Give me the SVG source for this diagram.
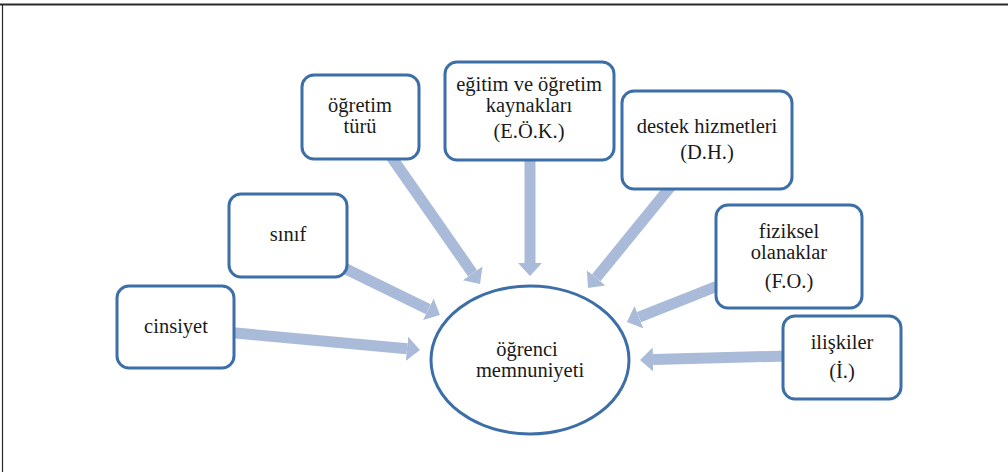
<svg xmlns="http://www.w3.org/2000/svg" width="1008" height="472" viewBox="0 0 1008 472">
<style>
.box{fill:#fff;stroke:#3c6ea7;stroke-width:3}
.t{font-family:"Liberation Serif","Times New Roman",serif;font-size:20.5px;fill:#1a1a1a;text-anchor:middle}
.arr{stroke:#a9bbd8;stroke-width:11;fill:none;marker-end:url(#ah)}
</style>
<defs>
<marker id="ah" markerUnits="userSpaceOnUse" markerWidth="14" markerHeight="26" refX="0" refY="13" orient="auto">
<path d="M0,1 L13,13 L0,25 z" fill="#a9bbd8"/>
</marker>
</defs>
<rect width="1008" height="472" fill="#fff"/>
<g id="frame" stroke="#2a2a2a" fill="none">
<line x1="0" y1="4.5" x2="1008" y2="4.5" stroke-width="2"/>
<line x1="2.5" y1="4" x2="2.5" y2="472" stroke-width="1.2"/>
</g>
<g id="connectors">
<line class="arr" x1="230" y1="332.5" x2="407" y2="348.8"/>
<line class="arr" x1="345" y1="268.5" x2="428.3" y2="309.3"/>
<line class="arr" x1="390" y1="155" x2="472.6" y2="273.3"/>
<line class="arr" x1="530" y1="156" x2="530" y2="263"/>
<line class="arr" x1="671" y1="186" x2="596.2" y2="277.9"/>
<line class="arr" x1="720" y1="285" x2="639" y2="317.2"/>
<line class="arr" x1="787" y1="356" x2="653" y2="359.6"/>
</g>
<g id="n-cinsiyet">
<rect class="box" x="117" y="286" width="117" height="82" rx="12"/>
<text class="t" x="176" y="333">cinsiyet</text>
</g>
<g id="n-sinif">
<rect class="box" x="229" y="194" width="118" height="83" rx="12"/>
<text class="t" x="288" y="241">sınıf</text>
</g>
<g id="n-ogretim-turu">
<rect class="box" x="302" y="75" width="117" height="84" rx="12"/>
<text class="t" x="360" y="112">öğretim</text>
<text class="t" x="360" y="133">türü</text>
</g>
<g id="n-eok">
<rect class="box" x="445" y="62" width="169" height="98" rx="12"/>
<text class="t" x="529" y="91">eğitim ve öğretim</text>
<text class="t" x="529" y="112">kaynakları</text>
<text class="t" x="529" y="138">(E.Ö.K.)</text>
</g>
<g id="n-dh">
<rect class="box" x="622" y="91" width="170" height="98" rx="12"/>
<text class="t" x="707" y="133">destek hizmetleri</text>
<text class="t" x="707" y="159">(D.H.)</text>
</g>
<g id="n-fo">
<rect class="box" x="716" y="205" width="146" height="103" rx="12"/>
<text class="t" x="789" y="238">fiziksel</text>
<text class="t" x="789" y="259">olanaklar</text>
<text class="t" x="789" y="288">(F.O.)</text>
</g>
<g id="n-iliskiler">
<rect class="box" x="783" y="316" width="118" height="83" rx="12"/>
<text class="t" x="842" y="349">ilişkiler</text>
<text class="t" x="842" y="378">(İ.)</text>
</g>
<g id="n-ogrenci">
<ellipse class="box" cx="530" cy="360" rx="99" ry="74"/>
<text class="t" x="527" y="356">öğrenci</text>
<text class="t" x="530" y="377">memnuniyeti</text>
</g>
</svg>
